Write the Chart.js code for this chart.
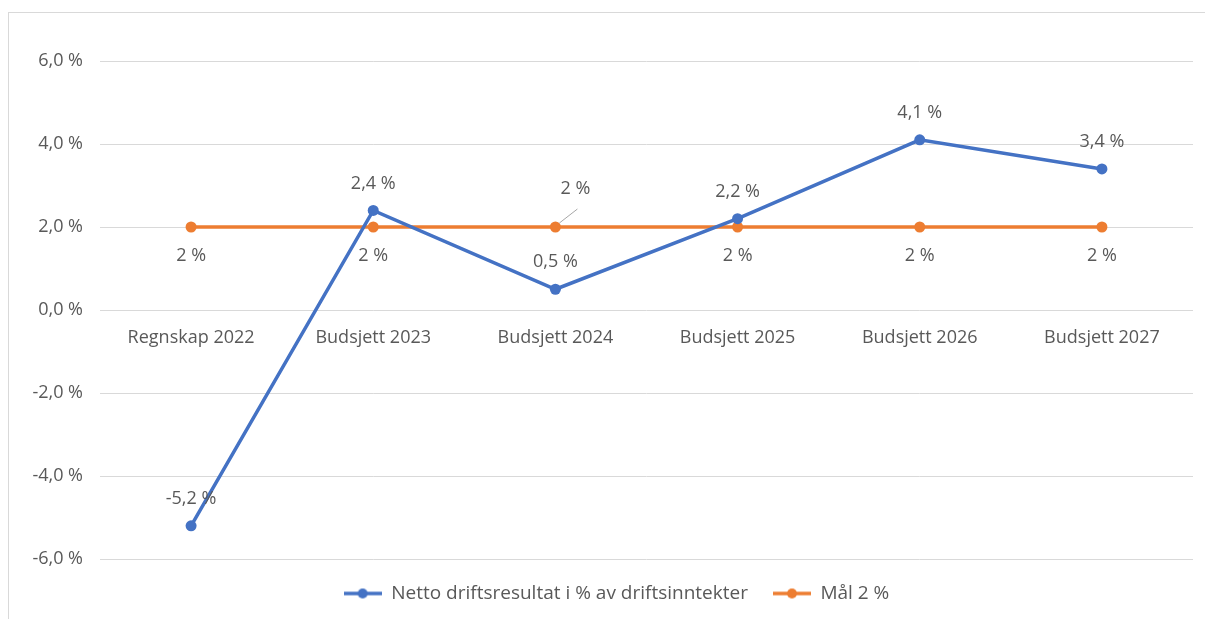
<!DOCTYPE html>
<html>

<head>
  <meta charset="UTF-8">
  <script src="https://cdn.jsdelivr.net/npm/chart.js"></script>
  <style>
    body { margin: 0; background: #fff; }
    .frame { position: absolute; left: 8px; top: 12px; width: 1220px; height: 640px; border: 1px solid #d9d9d9; }
    .chartBox { position: absolute; left: 0; top: 0; width: 1205px; height: 619px; }
  </style>
</head>

<body>
  <div class="frame"></div>
  <div class="chartBox">
    <canvas id="myChart"></canvas>
  </div>
  <script>
    // data
    const labels = ["Regnskap 2022", "Budsjett 2023", "Budsjett 2024", "Budsjett 2025", "Budsjett 2026", "Budsjett 2027"];
    const netto = [-5.2, 2.4, 0.5, 2.2, 4.1, 3.4];
    const maal = [2, 2, 2, 2, 2, 2];
    const yTicks = [-6, -4, -2, 0, 2, 4, 6];

    const grey = '#595959';
    const blue = '#4472C4';
    const orange = '#ED7D31';
    const font = "'Open Sans', sans-serif";

    function fmt(v, dec) {
      return v.toFixed(dec).replace('.', ',') + ' %';
    }

    // legend marker: line with a dot, like excel
    function legendMark(color) {
      const c = document.createElement('canvas');
      c.width = 38; c.height = 12;
      const x = c.getContext('2d');
      x.strokeStyle = color; x.lineWidth = 3.5;
      x.beginPath(); x.moveTo(0, 6); x.lineTo(38, 6); x.stroke();
      x.fillStyle = color;
      x.beginPath(); x.arc(19, 6, 5, 0, Math.PI * 2); x.fill();
      return c;
    }

    // excel centres the legend a bit to the right of the canvas centre
    const legendShift = {
      id: 'legendShift',
      afterLayout(chart) {
        chart.legend.left += 20;
        chart.legend.right += 20;
      }
    };

    // simple data labels
    const valueLabels = {
      id: 'valueLabels',
      afterDatasetsDraw(chart) {
        const ctx = chart.ctx;
        ctx.save();
        ctx.font = '18px ' + font;
        ctx.fillStyle = grey;
        ctx.textAlign = 'center';
        ctx.textBaseline = 'middle';
        chart.data.datasets.forEach((ds, i) => {
          const meta = chart.getDatasetMeta(i);
          meta.data.forEach((pt, j) => {
            const v = ds.data[j];
            if (i === 0) {
              ctx.fillText(fmt(v, 1), pt.x, pt.y - 27);
            } else if (j === 2) {
              ctx.fillText(fmt(v, 0), pt.x + 20, pt.y - 38);
              ctx.strokeStyle = '#a6a6a6';
              ctx.lineWidth = 1;
              ctx.beginPath();
              ctx.moveTo(pt.x + 4, pt.y - 4);
              ctx.lineTo(pt.x + 22, pt.y - 18);
              ctx.stroke();
            } else {
              ctx.fillText(fmt(v, 0), pt.x, pt.y + 29);
            }
          });
        });
        ctx.restore();
      }
    };

    new Chart(document.getElementById('myChart'), {
      type: 'line',
      data: {
        labels: labels,
        datasets: [{
          label: 'Netto driftsresultat i % av driftsinntekter',
          data: netto,
          borderColor: blue,
          backgroundColor: blue,
          borderWidth: 3.5,
          pointRadius: 5.5,
          pointBorderWidth: 0,
          order: 1
        },
        {
          label: 'Mål 2 %',
          data: maal,
          borderColor: orange,
          backgroundColor: orange,
          borderWidth: 3.5,
          pointRadius: 5.5,
          pointBorderWidth: 0,
          order: 2
        }]
      },
      options: {
        responsive: true,
        maintainAspectRatio: false,
        animation: false,
        layout: { padding: { left: 0, right: 12, top: 61, bottom: 6 } },
        scales: {
          x: {
            type: 'category',
            offset: true,
            position: { y: 0 },
            grid: { display: false, drawTicks: false },
            border: { display: false },
            ticks: { color: grey, font: { family: font, size: 18 }, padding: 17, maxRotation: 0 }
          },
          y: {
            min: yTicks[0],
            max: yTicks[yTicks.length - 1],
            afterBuildTicks(scale) {
              scale.ticks = yTicks.map(v => ({ value: v }));
            },
            afterFit(scale) { scale.width = 100; },
            grid: { color: '#d9d9d9', drawTicks: false },
            border: { display: false },
            ticks: {
              color: grey,
              font: { family: font, size: 18 },
              padding: 17,
              callback: v => fmt(v, 1)
            }
          }
        },
        plugins: {
          tooltip: { enabled: false },
          legend: {
            position: 'bottom',
            labels: {
              color: grey,
              font: { family: font, size: 19 },
              usePointStyle: true,
              pointStyleWidth: 38,
              padding: 25,
              generateLabels(chart) {
                return chart.data.datasets.map((ds, i) => ({
                  text: ds.label,
                  fontColor: grey,
                  pointStyle: legendMark(ds.borderColor),
                  datasetIndex: i,
                  lineWidth: 0,
                  strokeStyle: 'transparent',
                  fillStyle: 'transparent'
                }));
              }
            }
          }
        }
      },
      plugins: [valueLabels, legendShift]
    });
  </script>
</body>

</html>
